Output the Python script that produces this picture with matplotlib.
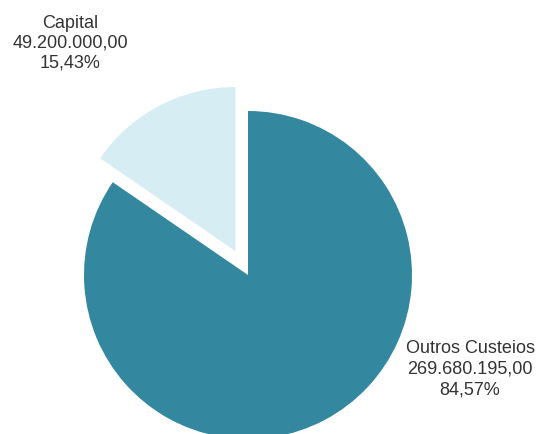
import matplotlib
matplotlib.use("Agg")
import matplotlib.pyplot as plt

categories = ["Capital", "Outros Custeios"]
values = [49200000.00, 269680195.00]
colors = ["#D6EDF4", "#33879F"]

def fmt_br(v):
    s = f"{v:,.2f}"
    return s.replace(",", "X").replace(".", ",").replace("X", ".")

total = sum(values)
labels = []
for c, v in zip(categories, values):
    pct = f"{v / total * 100:.2f}".replace(".", ",") + "%"
    labels.append(f"{c}\n{fmt_br(v)}\n{pct}")

W, H = 540, 434
fig = plt.figure(figsize=(W / 100, H / 100), dpi=100)
ax = fig.add_axes([0, 0, 1, 1])

radius = 164
center = (248, H - 275)
explode = [0.165 * radius, 0]

ax.pie(values, colors=colors, startangle=90, counterclock=True,
       radius=radius, center=center, explode=explode, frame=False,
       wedgeprops=dict(linewidth=0))
ax.set_xlim(0, W)
ax.set_ylim(0, H)
ax.set_aspect("equal")
ax.axis("off")

font = dict(family="Liberation Sans", fontsize=13, color="#333333",
            ha="center", va="center")
ax.text(70, H - 43, labels[0], linespacing=1.2, **font)
ax.text(470, H - 369, labels[1], linespacing=1.3, **font)

fig.savefig("out.png", dpi=100, facecolor="white")
